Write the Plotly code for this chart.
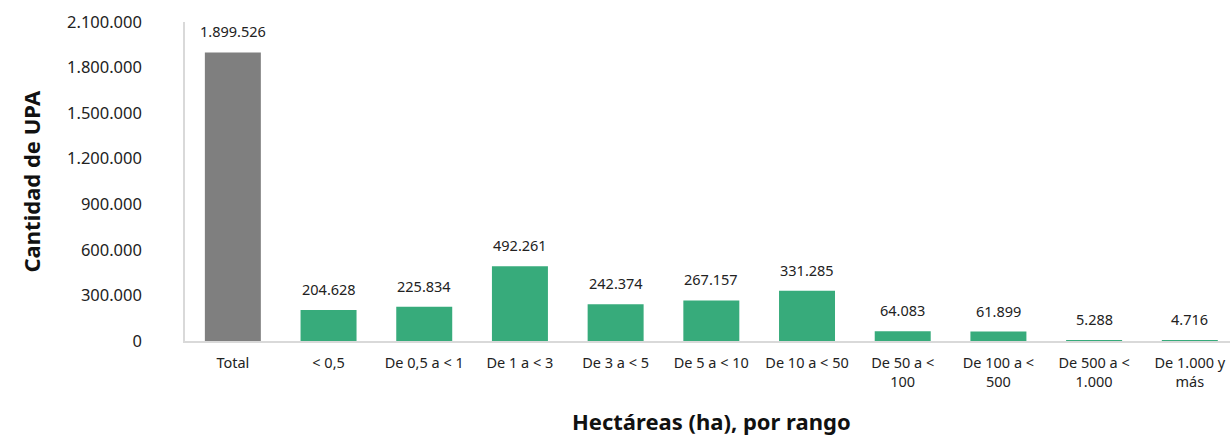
import plotly.graph_objects as go

categories = ["Total", "< 0,5", "De 0,5 a < 1", "De 1 a < 3", "De 3 a < 5", "De 5 a < 10",
              "De 10 a < 50", "De 50 a <<br>100", "De 100 a <<br>500", "De 500 a <<br>1.000",
              "De 1.000 y<br>más"]
values = [1899526, 204628, 225834, 492261, 242374, 267157, 331285, 64083, 61899, 5288, 4716]
labels = ["1.899.526", "204.628", "225.834", "492.261", "242.374", "267.157", "331.285",
          "64.083", "61.899", "5.288", "4.716"]
y_ticks = [0, 300000, 600000, 900000, 1200000, 1500000, 1800000, 2100000]
y_ticktext = ["0", "300.000", "600.000", "900.000", "1.200.000", "1.500.000", "1.800.000", "2.100.000"]

GRAY = "#7f7f7f"
GREEN = "#37ab7b"
colors = [GRAY] + [GREEN] * (len(categories) - 1)
FONT = "Noto Sans"

fig = go.Figure()
fig.add_trace(go.Bar(x=list(range(len(categories))), y=values, marker=dict(color=colors, line=dict(width=0)),
                     width=0.585, hoverinfo="skip"))

for i, (v, t) in enumerate(zip(values, labels)):
    fig.add_annotation(x=i, y=v, text=t, showarrow=False, xref="x", yref="y",
                       yanchor="bottom", yshift=9, font=dict(family=FONT, size=14.5, color="#222"))

fig.add_annotation(text="<b>Cantidad de UPA</b>", xref="paper", yref="paper", x=0, y=0.5,
                   xanchor="center", yanchor="middle",
                   xshift=-155, textangle=-90, showarrow=False,
                   font=dict(family=FONT, size=22, color="#111"))
fig.add_annotation(text="<b>Hectáreas (ha), por rango</b>", xref="paper", yref="paper", x=0.504, y=0,
                   xanchor="center", yshift=-80, showarrow=False, yanchor="middle",
                   font=dict(family=FONT, size=22, color="#111"))

fig.update_layout(
    width=1230, height=438,
    margin=dict(l=185, r=0, t=22, b=97, autoexpand=False),
    plot_bgcolor="white", paper_bgcolor="white",
    showlegend=False,
    font=dict(family=FONT, color="#222"),
    xaxis=dict(range=[-0.5, 10.42], tickmode="array", tickvals=list(range(len(categories))),
               ticktext=categories, showline=True, linecolor="#d9d9d9", linewidth=1.5,
               showgrid=False, zeroline=False, ticks="outside", ticklen=8,
               tickcolor="rgba(0,0,0,0)", tickfont=dict(family=FONT, size=14.5, color="#222"),
               tickangle=0, fixedrange=True),
    yaxis=dict(range=[0, 2100000], tickmode="array", tickvals=y_ticks, ticktext=y_ticktext,
               showline=True, linecolor="#d9d9d9", linewidth=1.5, showgrid=False, zeroline=False,
               ticks="outside", ticklen=38, tickcolor="rgba(0,0,0,0)",
               tickfont=dict(family=FONT, size=16.5, color="#222"), fixedrange=True),
)

fig.write_html("out.html", config={"displayModeBar": False},
               post_script="document.body.style.margin='0';")
